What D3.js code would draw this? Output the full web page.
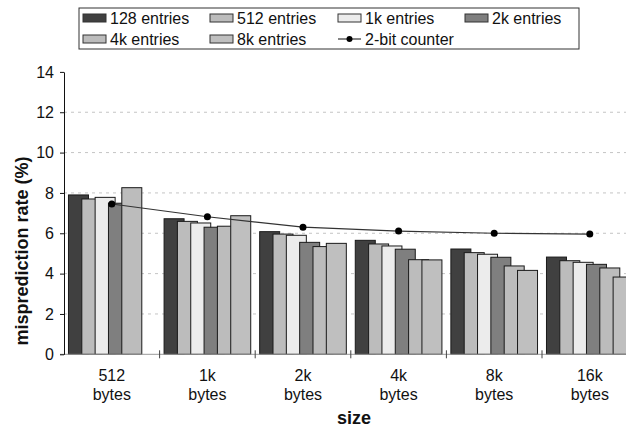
<!DOCTYPE html>
<html><head><meta charset="utf-8">
<script src="https://cdn.jsdelivr.net/npm/d3@7"></script>
<style>body{margin:0;background:#fff}svg{display:block;font-family:"Liberation Sans",Arial,sans-serif}</style>
</head><body><svg id="c" width="626" height="427"></svg>
<script>
const categories = ["512 bytes","1k bytes","2k bytes","4k bytes","8k bytes","16k bytes"];
const seriesNames = ["128 entries","512 entries","1k entries","2k entries","4k entries","8k entries"];
const seriesColors = ["#404040","#bcbcbc","#ececec","#7f7f7f","#bcbcbc","#bfbfbf"];
const s128  = [7.90, 6.72, 6.08, 5.65, 5.22, 4.82];
const s512  = [7.70, 6.59, 5.96, 5.47, 5.04, 4.64];
const s1k   = [7.78, 6.51, 5.90, 5.37, 4.96, 4.56];
const s2k   = [7.49, 6.30, 5.55, 5.21, 4.81, 4.46];
const s4k   = [8.26, 6.35, 5.34, 4.69, 4.38, 4.28];
const s8k   = [null, 6.87, 5.50, 4.68, 4.16, 3.83];
const counter2bit = [7.45, 6.82, 6.30, 6.11, 6.00, 5.96];
const yTicks = [0,2,4,6,8,10,12,14];
const seriesValues = [s128,s512,s1k,s2k,s4k,s8k];

const svg = d3.select("#c");
const x0 = d3.scaleBand().domain(categories).range([64, 637.6]).padding(0);
const y = d3.scaleLinear().domain([0,14]).range([354.3, 71.9]);
const step = 13.33, barW = 20;
const x1 = d3.scaleBand().domain(seriesNames).range([0, step*6]).padding(0);
const groupW = step*5 + barW;

// gridlines
svg.append("g").selectAll("line").data(yTicks.filter(t=>t>0 && t<14)).join("line")
  .attr("x1",64).attr("x2",626).attr("y1",d=>y(d)).attr("y2",d=>y(d))
  .attr("stroke","#c4c4c4").attr("stroke-dasharray","3,4").attr("stroke-width",1);

// bars
const groups = svg.append("g").selectAll("g").data(categories).join("g")
  .attr("transform",c=>`translate(${x0(c)+x0.bandwidth()/2-groupW/2},0)`);
groups.each(function(c,ci){
  const g = d3.select(this);
  seriesNames.forEach((s,si)=>{
    const v = seriesValues[si][ci];
    if(v==null) return;
    g.append("rect").attr("x",x1(s)).attr("width",barW)
      .attr("y",y(v)).attr("height",y(0)-y(v))
      .attr("fill",seriesColors[si]).attr("stroke","#1a1a1a").attr("stroke-width",1);
  });
});

// x axis
svg.append("line").attr("x1",60).attr("x2",626).attr("y1",y(0)).attr("y2",y(0))
  .attr("stroke","#999").attr("stroke-width",1);
svg.append("g").selectAll("line").data(categories.slice(1)).join("line")
  .attr("x1",c=>x0(c)).attr("x2",c=>x0(c)).attr("y1",y(0)-4).attr("y2",y(0)+4)
  .attr("stroke","#444").attr("stroke-width",1);
const xl = svg.append("g").selectAll("text").data(categories).join("text")
  .attr("x",c=>x0(c)+x0.bandwidth()/2).attr("y",381)
  .attr("text-anchor","middle").attr("font-size",16).attr("fill","#111");
xl.each(function(c){
  const parts = c.split(" ");
  const t = d3.select(this);
  t.append("tspan").attr("x",+t.attr("x")).text(parts[0]);
  t.append("tspan").attr("x",+t.attr("x")).attr("dy",19).text(parts[1]);
});

// y axis
const yAxis = d3.axisLeft(y).tickValues(yTicks).tickSize(4).tickSizeOuter(0);
const ya = svg.append("g").attr("transform","translate(64,0)").call(yAxis);
ya.select(".domain").attr("stroke","#111");
ya.selectAll(".tick line").attr("stroke","#111");
ya.selectAll("text").attr("font-size",16).attr("fill","#111").attr("x",-10)
  .attr("font-family","'Liberation Sans',Arial,sans-serif");

// line
const cx = c=>x0(c)+x0.bandwidth()/2;
svg.append("path").datum(counter2bit)
  .attr("d",d3.line().x((d,i)=>cx(categories[i])).y(d=>y(d)))
  .attr("fill","none").attr("stroke","#333").attr("stroke-width",1.2);
svg.append("g").selectAll("circle").data(counter2bit).join("circle")
  .attr("cx",(d,i)=>cx(categories[i])).attr("cy",d=>y(d)).attr("r",3.5).attr("fill","#000");

// titles
svg.append("text").attr("x",354).attr("y",424).attr("text-anchor","middle")
  .attr("font-size",18).attr("font-weight","bold").attr("fill","#111").text("size");
svg.append("text").attr("transform","translate(28,251) rotate(-90)").attr("text-anchor","middle")
  .attr("font-size",18).attr("font-weight","bold").attr("fill","#111").text("misprediction rate (%)");

// legend
const leg = svg.append("g");
leg.append("rect").attr("x",79).attr("y",8).attr("width",500).attr("height",41)
  .attr("fill","#fff").attr("stroke","#333").attr("stroke-width",1);
const legItems = seriesNames.map((s,i)=>({name:s,color:seriesColors[i],type:"bar"}))
  .concat([{name:"2-bit counter",type:"line"}]);
const colX = [83,210,338,465];
const rowY = [18,39];
legItems.forEach((d,i)=>{
  const col = i%4, row = Math.floor(i/4);
  const gx = colX[col], gy = rowY[row];
  const g = leg.append("g");
  if(d.type==="bar"){
    g.append("rect").attr("x",gx).attr("y",gy-4).attr("width",23).attr("height",8)
      .attr("fill",d.color).attr("stroke","#333").attr("stroke-width",1);
  } else {
    g.append("line").attr("x1",gx).attr("x2",gx+23).attr("y1",gy).attr("y2",gy)
      .attr("stroke","#333").attr("stroke-width",1.2);
    g.append("circle").attr("cx",gx+11.5).attr("cy",gy).attr("r",3).attr("fill","#000");
  }
  g.append("text").attr("x",gx+27).attr("y",gy+6).attr("font-size",16).attr("fill","#111").text(d.name);
});
</script></body></html>
